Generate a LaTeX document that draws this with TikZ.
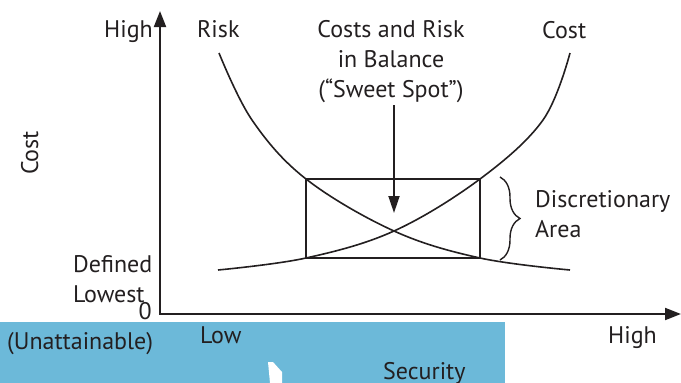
\documentclass[tikz,border=0pt]{standalone}
\usepackage{fontspec}
\setmainfont{PT Sans}
\usetikzlibrary{arrows.meta,decorations.pathreplacing}
\definecolor{ink}{HTML}{231F20}
\definecolor{skyband}{RGB}{108,185,217}
\begin{document}
\begin{tikzpicture}[x=1pt,y=-1pt,
  lbl/.style={font=\fontsize{24}{30}\selectfont, text=ink, inner sep=0pt},
  axis/.style={draw=ink, line width=2pt},
  curve/.style={draw=ink, line width=1.6pt},
  tip/.style={-{Triangle[length=17pt,width=11pt]}},
]
\useasboundingbox (0,0) rectangle (681,383);
% blue band
\fill[skyband] (0,322) rectangle (505,383);
\fill[white] (268,362) -- (273,362) -- (282,372) -- (282,383) -- (270,383) -- cycle;
% axes
\coordinate (O) at (160,314);
\coordinate (ytip) at (160,11);
\coordinate (xtip) at (681,314);
\draw[axis, {Triangle[length=16pt,width=12pt]}-{Triangle[length=16pt,width=12pt]}] (ytip) -- (O) -- (xtip);
% box
\node (box) [draw=ink, line width=1.6pt, minimum width=174pt, minimum height=79pt,
  inner sep=0pt, outer sep=0pt, anchor=north west] at (306,179) {};
% curves
\draw[curve] plot[smooth, tension=0.6] coordinates {(219,53) (252,120) (306,179) (394,231) (480,258) (570,270)};
\draw[curve] plot[smooth, tension=0.6] coordinates {(218,270) (306,258) (394,231) (480,179) (543,120) (570,53)};
% labels
\node (yhigh) [lbl, anchor=base east] at (153,37) {High};
\node (risk) [lbl, anchor=base west] at (197,37) {Risk};
\node (cost) [lbl, anchor=base west] at (542,38) {Cost};
\node (sweet) [lbl, align=center, anchor=base] at (391,97) {Costs and Risk\\in Balance\\(“Sweet Spot”)};
\coordinate (sweettip) at (394,213);
\draw[ink, line width=1.8pt, tip] (sweet.south -| sweettip) ++(0,3) -- (sweettip);
\node (ycost) [lbl, rotate=90, anchor=base] at (38,153) {Cost};
\node (deflow) [lbl, align=left, anchor=base west] at (73,302) {Defined\\Lowest};
\node (zero) [lbl, anchor=base east] at (152,319) {0};
\node (unatt) [lbl, anchor=base west] at (7,349) {(Unattainable)};
\node (low) [lbl, anchor=base west] at (200,343) {Low};
\node (xhigh) [lbl, anchor=base east] at (657,343) {High};
\node (sec) [lbl, anchor=base west] at (383,379) {Security};
% brace
\coordinate (bt) at (500,177);
\coordinate (bb) at (500,260);
\draw[ink, line width=1.4pt, decorate, decoration={brace, amplitude=20pt}] (bt) -- (bb);
\node (disc) [lbl, align=left, anchor=base west] at (535,237) {Discretionary\\Area};
\end{tikzpicture}
\end{document}
